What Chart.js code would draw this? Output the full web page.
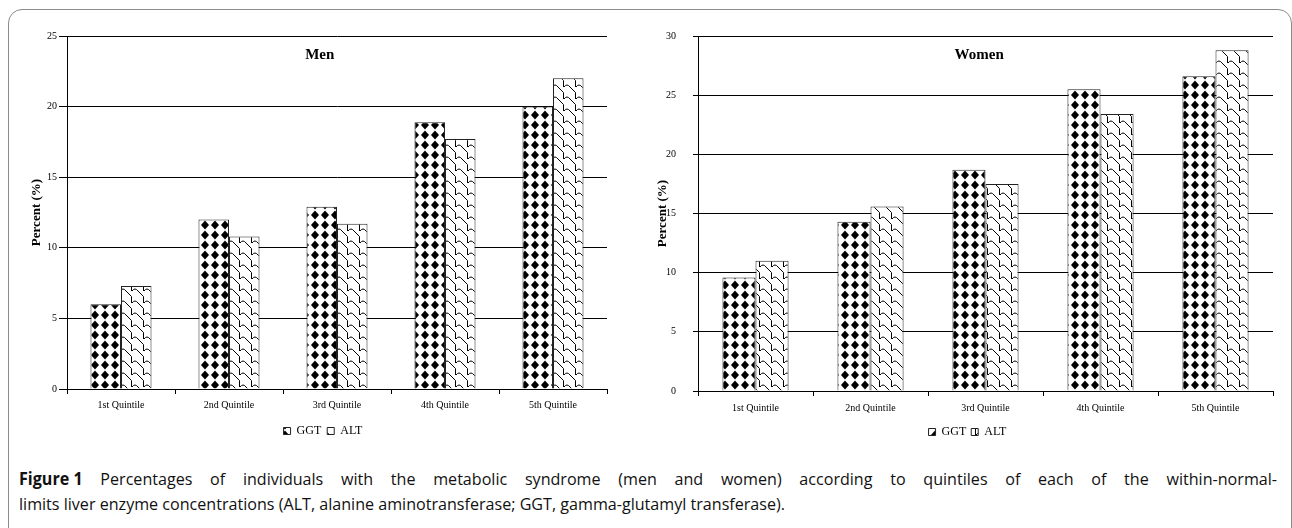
<!DOCTYPE html>
<html>
<head>
<meta charset="utf-8">
<script src="https://cdn.jsdelivr.net/npm/chart.js@4.4.1/dist/chart.umd.min.js"></script>
<style>
  body { margin: 0; background: #fff; width: 1292px; height: 528px; overflow: hidden; position: relative; }
  #frame { position: absolute; left: 8px; top: 9px; width: 1284px; height: 560px; border: 1px solid #8c8c8c; border-radius: 14px; box-sizing: border-box; }
  .panel { position: absolute; top: 0; }
  #caption { position: absolute; left: 19px; top: 466px; font-family: "Liberation Sans Narrow", "Open Sans", "Noto Sans", sans-serif; font-size: 17px; color: #111; white-space: nowrap; transform-origin: 0 0; line-height: 25px; }
  #cap-line1 { display: block; text-align: justify; text-align-last: justify; white-space: normal; }
  #cap-line2 { display: inline-block; }
  #caption b { font-weight: 700; display: inline-block; }
</style>
</head>
<body>
<div id="frame"></div>
<div class="panel" style="left:0px"><canvas id="men-chart" width="640" height="455"></canvas></div>
<div class="panel" style="left:640px"><canvas id="women-chart" width="652" height="455"></canvas></div>
<div id="caption"><span id="cap-line1"><b>Figure 1</b> Percentages of individuals with the metabolic syndrome (men and women) according to quintiles of each of the within-normal-</span><span id="cap-line2">limits liver enzyme concentrations (ALT, alanine aminotransferase; GGT, gamma-glutamyl transferase).</span></div>

<script>
// Chart data
const quintiles = ['1st Quintile', '2nd Quintile', '3rd Quintile', '4th Quintile', '5th Quintile'];
const seriesNames = ['GGT', 'ALT'];

const menGGT = [6.0, 12.0, 12.9, 18.9, 20.0];
const menALT = [7.3, 10.8, 11.7, 17.7, 22.0];

const womenGGT = [9.6, 14.3, 18.7, 25.5, 26.6];
const womenALT = [11.0, 15.6, 17.5, 23.4, 28.8];

const menTicks = [0, 5, 10, 15, 20, 25];
const womenTicks = [0, 5, 10, 15, 20, 25, 30];

const serif = "'Liberation Serif', 'Times New Roman', serif";
Chart.defaults.color = '#000';
Chart.defaults.font.family = serif;

// Black diamonds on white (GGT)
function diamondPattern() {
  const c = document.createElement('canvas');
  c.width = 10; c.height = 10;
  const g = c.getContext('2d');
  g.fillStyle = '#fff';
  g.fillRect(0, 0, 10, 10);
  g.fillStyle = '#000';
  g.beginPath();
  g.moveTo(5, 0.5);
  g.lineTo(9, 5);
  g.lineTo(5, 9.5);
  g.lineTo(1, 5);
  g.closePath();
  g.fill();
  return g.createPattern(c, 'repeat');
}

// Wavy shingle lines (ALT)
function shinglePattern() {
  const s = 12;
  const c = document.createElement('canvas');
  c.width = s; c.height = s;
  const g = c.getContext('2d');
  g.fillStyle = '#fff';
  g.fillRect(0, 0, s, s);
  g.strokeStyle = '#000';
  g.lineWidth = 1;
  for (let dx = -s; dx <= s; dx += s) {
    for (let dy = -s; dy <= s; dy += s) {
      g.beginPath();
      g.moveTo(dx + 0, dy + 3);
      g.quadraticCurveTo(dx + 3, dy - 1, dx + 6, dy + 3);
      g.lineTo(dx + 11.5, dy + 8.5);
      g.lineTo(dx + 11.5, dy + 15);
      g.stroke();
    }
  }
  return g.createPattern(c, 'repeat');
}

// Draws the "Men" / "Women" label inside the plot area
const panelLabel = {
  id: 'panelLabel',
  afterDraw(chart, args, opts) {
    const { ctx, chartArea } = chart;
    ctx.save();
    ctx.font = "bold 15px " + serif;
    ctx.fillStyle = '#000';
    ctx.textAlign = 'center';
    ctx.textBaseline = 'middle';
    const x = chartArea.left + opts.at * (chartArea.right - chartArea.left);
    ctx.fillText(opts.text, x, chartArea.top + 19);
    ctx.restore();
  }
};

function makeChart(id, label, ggt, alt, ticks, cfg) {
  const ctx = document.getElementById(id).getContext('2d');
  return new Chart(ctx, {
    type: 'bar',
    data: {
      labels: quintiles,
      datasets: [{
        label: seriesNames[0],
        data: ggt,
        backgroundColor: diamondPattern(),
        borderColor: '#222',
        borderWidth: 1,
        categoryPercentage: cfg.catPct,
        barPercentage: 1
      }, {
        label: seriesNames[1],
        data: alt,
        backgroundColor: shinglePattern(),
        borderColor: '#222',
        borderWidth: 1,
        categoryPercentage: cfg.catPct,
        barPercentage: 1
      }]
    },
    plugins: [panelLabel],
    options: {
      responsive: false,
      animation: false,
      devicePixelRatio: 1,
      layout: {
        padding: cfg.padding
      },
      plugins: {
        tooltip: { enabled: false },
        panelLabel: { text: label, at: cfg.labelAt },
        legend: {
          position: 'bottom',
          labels: {
            boxWidth: 7,
            boxHeight: 7,
            padding: cfg.legendPad,
            color: '#000',
            font: { size: 12, family: serif }
          }
        }
      },
      scales: {
        x: {
          grid: {
            drawOnChartArea: false,
            tickLength: 5,
            color: '#000'
          },
          border: { color: '#000' },
          ticks: {
            padding: cfg.xPad,
            maxRotation: 0,
            font: { size: 10, family: serif }
          },
          afterFit: function(scale) { scale.height = 30; }
        },
        y: {
          min: ticks[0],
          max: ticks[ticks.length - 1],
          afterBuildTicks: function(scale) {
            scale.ticks = ticks.map(v => ({ value: v }));
          },
          grid: {
            color: '#000',
            tickLength: cfg.yTick,
            lineWidth: 1
          },
          border: { color: '#000' },
          ticks: {
            padding: cfg.yPad,
            font: { size: 10, family: serif }
          },
          title: {
            display: true,
            text: 'Percent (%)',
            font: { size: 13, weight: 'bold', family: serif },
            padding: { top: cfg.titlePad, bottom: 0 }
          },
          afterFit: function(scale) { scale.width = cfg.yWidth; }
        }
      }
    }
  });
}

document.addEventListener('DOMContentLoaded', () => {
  makeChart('men-chart', 'Men', menGGT, menALT, menTicks, {
    catPct: 0.565,
    padding: { left: 39, right: 33, top: 36, bottom: 8 },
    yWidth: 28,
    yTick: 8,
    yPad: 2,
    titlePad: -10.3,
    xPad: 5,
    legendPad: 6,
    labelAt: 0.468
  });

  makeChart('women-chart', 'Women', womenGGT, womenALT, womenTicks, {
    catPct: 0.575,
    padding: { left: 22, right: 19, top: 36, bottom: 7 },
    yWidth: 36,
    yTick: 5,
    yPad: 17,
    titlePad: -6.8,
    xPad: 6,
    legendPad: 5,
    labelAt: 0.489
  });

  // caption: line 2 sets the font squeeze, line 1 is justified to full width
  const cap = document.getElementById('caption');
  const line2 = document.getElementById('cap-line2');
  const k = 766 / line2.getBoundingClientRect().width;
  document.getElementById('cap-line1').style.width = (1258 / k) + 'px';
  cap.style.transform = 'scale(' + k + ', 1)';
});
</script>
</body>
</html>
